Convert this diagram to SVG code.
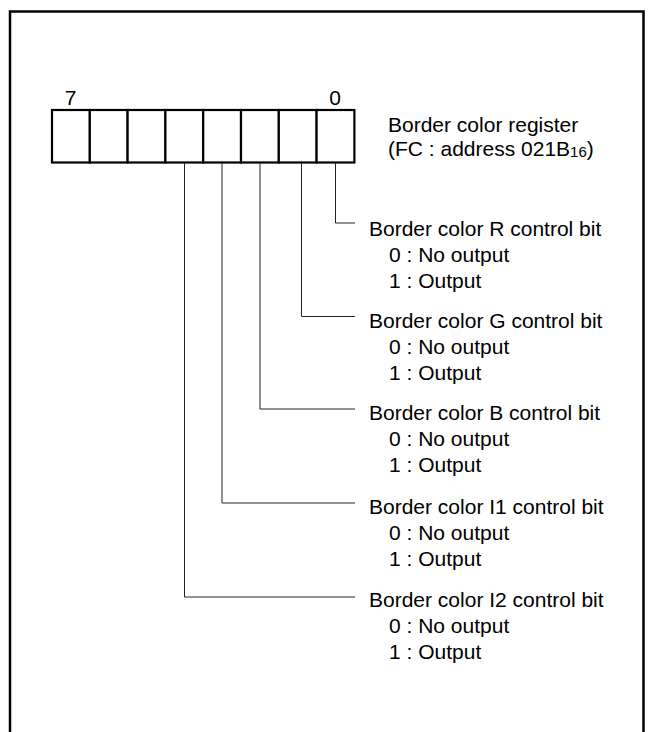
<svg xmlns="http://www.w3.org/2000/svg" width="650" height="732" viewBox="0 0 650 732">
<style>
text{font-family:"Liberation Sans",Arial,sans-serif;font-size:21px;fill:#000}
.sub{font-size:15px}
.cell{fill:#fff;stroke:#000;stroke-width:2.2}
.conn{fill:none;stroke:#222;stroke-width:1}
</style>
<rect width="650" height="732" fill="#fff"/>
<path d="M10,740 V11.5 H643.5 V740" fill="none" stroke="#000" stroke-width="2.5"/>
<g id="register">
<rect class="cell" x="52" y="110" width="37.8" height="52.5"/>
<rect class="cell" x="89.8" y="110" width="37.8" height="52.5"/>
<rect class="cell" x="127.6" y="110" width="37.8" height="52.5"/>
<rect class="cell" x="165.4" y="110" width="37.8" height="52.5"/>
<rect class="cell" x="203.2" y="110" width="37.8" height="52.5"/>
<rect class="cell" x="241" y="110" width="37.8" height="52.5"/>
<rect class="cell" x="278.8" y="110" width="37.8" height="52.5"/>
<rect class="cell" x="316.6" y="110" width="37.8" height="52.5"/>
<text x="70.5" y="104.5" text-anchor="middle">7</text>
<text x="335" y="104.5" text-anchor="middle">0</text>
</g>
<g id="register-label">
<text x="388" y="131.5">Border color register</text>
<text x="388" y="155.5">(FC : address 021B<tspan class="sub" dy="1.5">16</tspan><tspan dy="-1.5">)</tspan></text>
</g>
<g id="connectors">
<path class="conn" d="M335.5,163 V223 H355"/>
<path class="conn" d="M301.5,163 V316.5 H355"/>
<path class="conn" d="M260,163 V409 H355"/>
<path class="conn" d="M222,163 V503 H355"/>
<path class="conn" d="M184.5,163 V597 H355"/>
</g>
<g id="bit0">
<text x="369" y="235.5">Border color R control bit</text>
<text x="389" y="261.5">0 : No output</text>
<text x="389" y="287.5">1 : Output</text>
</g>
<g id="bit1">
<text x="369" y="328">Border color G control bit</text>
<text x="389" y="354">0 : No output</text>
<text x="389" y="380">1 : Output</text>
</g>
<g id="bit2">
<text x="369" y="420">Border color B control bit</text>
<text x="389" y="446">0 : No output</text>
<text x="389" y="472">1 : Output</text>
</g>
<g id="bit3">
<text x="369" y="514">Border color I1 control bit</text>
<text x="389" y="540">0 : No output</text>
<text x="389" y="566">1 : Output</text>
</g>
<g id="bit4">
<text x="369" y="607">Border color I2 control bit</text>
<text x="389" y="633">0 : No output</text>
<text x="389" y="659">1 : Output</text>
</g>
</svg>
